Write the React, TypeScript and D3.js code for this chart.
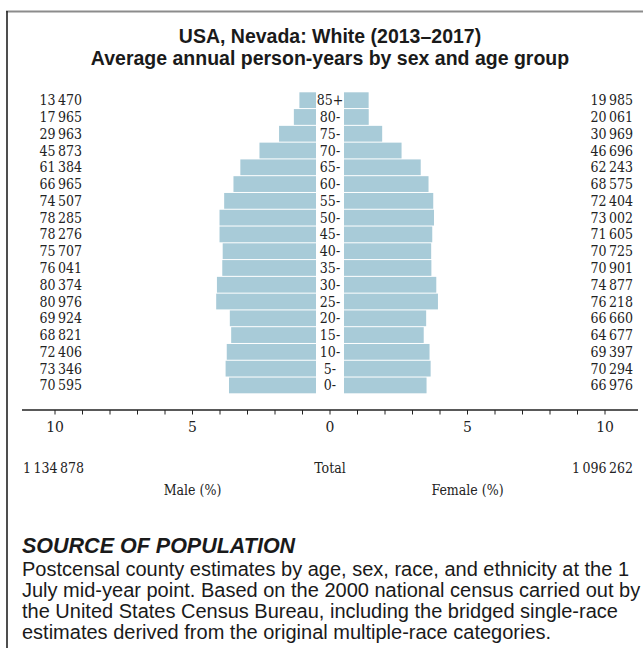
import React from "react";
import * as d3 from "d3";

const ageGroups = ["0-", "5-", "10-", "15-", "20-", "25-", "30-", "35-", "40-", "45-", "50-", "55-", "60-", "65-", "70-", "75-", "80-", "85+"];
const maleValues = [70595, 73346, 72406, 68821, 69924, 80976, 80374, 76041, 75707, 78276, 78285, 74507, 66965, 61384, 45873, 29963, 17965, 13470];
const femaleValues = [66976, 70294, 69397, 64677, 66660, 76218, 74877, 70901, 70725, 71605, 73002, 72404, 68575, 62243, 46696, 30969, 20061, 19985];
const totals = [1134878, 1096262];
const axisTicks = d3.range(-10, 11, 1);
const axisLabelTicks = [-10, -5, 0, 5, 10];

const titleLines = ["USA, Nevada: White (2013\u20132017)", "Average annual person-years by sex and age group"];
const sourceHeader = "SOURCE OF POPULATION";
const sourceLines = [
  "Postcensal county estimates by age, sex, race, and ethnicity at the 1",
  "July mid-year point. Based on the 2000 national census carried out by",
  "the United States Census Bureau, including the bridged single-race",
  "estimates derived from the original multiple-race categories.",
];

const W = 643;
const H = 648;
const CX = 330;
const GAP = 14;
const SERIF = "'DejaVu Serif', serif";
const SANS = "'Liberation Sans', Arial, sans-serif";
const TEXT = "#222";
const BAR = "#a8cbd8";

const fmt = (v: number) => d3.format(",")(v).replace(/,/g, "\u2009");

const serifProps = { fontFamily: SERIF, fontStretch: "condensed", fill: TEXT } as const;

export default function App() {
  const [maleTotal, femaleTotal] = totals;
  const grand = maleTotal + femaleTotal;

  const y = d3.scaleBand<string>().domain([...ageGroups].reverse()).range([92.3, 393.3]).paddingInner(0.06);
  const w = d3.scaleLinear().domain([0, 10]).range([0, 275]);
  const ax = d3.scaleLinear().domain([-10, 10]).range([CX - 275, CX + 275]);
  const pct = (v: number) => (v / grand) * 100;
  const axisY = 410;

  return (
    <svg width={W} height={H} style={{ position: "absolute", left: 0, top: 0, background: "#fff" }}>
      <rect x={0} y={0} width={W} height={H} fill="#fff" />
      <line x1={6} x2={W} y1={11.5} y2={11.5} stroke="#8c8c8c" strokeWidth={2} />
      <line x1={7} x2={7} y1={11} y2={H} stroke="#222" strokeWidth={1.6} />

      {titleLines.map((t, i) => (
        <text key={i} x={CX} y={43 + i * 21.5} textAnchor="middle" fontFamily={SANS} fontWeight="bold" fontSize={19.5} fill="#1a1a1a">
          {t}
        </text>
      ))}

      {ageGroups.map((g, i) => {
        const yy = y(g)!;
        const bh = y.bandwidth();
        const mw = w(pct(maleValues[i]));
        const fw = w(pct(femaleValues[i]));
        const cy = yy + bh / 2;
        return (
          <g key={g}>
            <rect x={CX - GAP - mw} y={yy} width={mw} height={bh} fill={BAR} />
            <rect x={CX + GAP} y={yy} width={fw} height={bh} fill={BAR} />
            <text x={CX} y={cy} dy="0.36em" textAnchor="middle" fontSize={14} {...serifProps}>{g}</text>
            <text x={82} y={cy} dy="0.36em" textAnchor="end" fontSize={14} {...serifProps}>{fmt(maleValues[i])}</text>
            <text x={633} y={cy} dy="0.36em" textAnchor="end" fontSize={14} {...serifProps}>{fmt(femaleValues[i])}</text>
          </g>
        );
      })}

      <line x1={ax(-11.2)} x2={ax(11.2)} y1={axisY} y2={axisY} stroke="#222" strokeWidth={1.5} />
      {axisTicks.map((t) => (
        <line key={t} x1={ax(t)} x2={ax(t)} y1={axisY} y2={axisY + 4.5} stroke="#222" strokeWidth={1} />
      ))}
      {axisLabelTicks.map((t) => (
        <text key={t} x={ax(t)} y={432} textAnchor="middle" fontSize={15.5} {...serifProps}>{Math.abs(t)}</text>
      ))}

      <text x={23} y={472.5} fontSize={14} {...serifProps}>{fmt(maleTotal)}</text>
      <text x={CX} y={472.5} textAnchor="middle" fontSize={14} {...serifProps}>Total</text>
      <text x={633} y={472.5} textAnchor="end" fontSize={14} {...serifProps}>{fmt(femaleTotal)}</text>
      <text x={ax(-5)} y={495} textAnchor="middle" fontSize={14} {...serifProps}>Male (%)</text>
      <text x={ax(5)} y={495} textAnchor="middle" fontSize={14} {...serifProps}>Female (%)</text>

      <text x={22} y={553} fontFamily={SANS} fontWeight="bold" fontStyle="italic" fontSize={21.5} fill="#1a1a1a">{sourceHeader}</text>
      {sourceLines.map((t, i) => (
        <text key={i} x={22} y={575.5 + i * 21.3} fontFamily={SANS} fontSize={20} fill="#1a1a1a">{t}</text>
      ))}
    </svg>
  );
}
